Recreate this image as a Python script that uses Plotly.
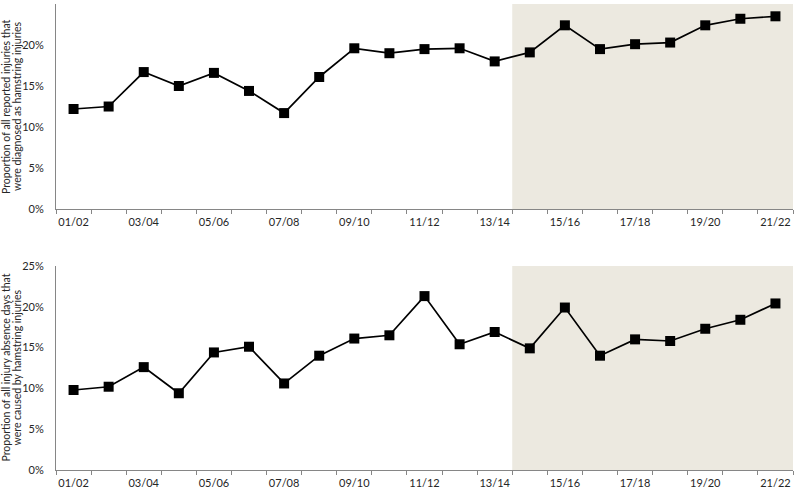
import plotly.graph_objects as go
from plotly.subplots import make_subplots

seasons = ["01/02", "02/03", "03/04", "04/05", "05/06", "06/07", "07/08", "08/09",
           "09/10", "10/11", "11/12", "12/13", "13/14", "14/15", "15/16", "16/17",
           "17/18", "18/19", "19/20", "20/21", "21/22"]

# % of all reported injuries diagnosed as hamstring injuries
injury_share = [12.2, 12.5, 16.7, 15.0, 16.6, 14.4, 11.7, 16.1, 19.6, 19.0, 19.5,
                19.6, 18.0, 19.1, 22.4, 19.5, 20.1, 20.3, 22.4, 23.2, 23.5]

# % of all injury absence days caused by hamstring injuries
absence_share = [9.8, 10.2, 12.6, 9.4, 14.4, 15.1, 10.6, 14.0, 16.1, 16.5, 21.3,
                 15.4, 16.9, 14.9, 19.9, 14.0, 16.0, 15.8, 17.3, 18.4, 20.4]

y_ticks = [0, 5, 10, 15, 20, 25]
shade_start = "14/15"

titles = [
    ["Proportion of all reported injuries that", "were diagnosed as hamstring injuries"],
    ["Proportion of all injury absence days that", "were caused by hamstring injuries"],
]

FONT = "Lato"
AXIS = "#868686"
SHADE = "#ECE9E0"
INK = "#262626"

domains = [[0.560, 1.0], [0.0, 0.438]]
PLOT_W = 737  # plot area width in px, used to place the rotated titles

fig = make_subplots(rows=2, cols=1, vertical_spacing=0.12)

for row, vals in enumerate([injury_share, absence_share], start=1):
    fig.add_trace(go.Scatter(
        x=seasons, y=vals, mode="lines+markers",
        line=dict(color="black", width=1.7),
        marker=dict(symbol="square", size=10, color="black"),
        showlegend=False,
    ), row=row, col=1)
    xref = "x" if row == 1 else "x2"
    yref = "y domain" if row == 1 else "y2 domain"
    fig.add_shape(
        type="rect", xref=xref, yref=yref,
        x0=seasons.index(shade_start) - 0.5, x1=len(seasons) - 0.5, y0=0, y1=1,
        fillcolor=SHADE, line_width=0, layer="below",
    )
    fig.update_xaxes(
        row=row, col=1, type="category",
        tickmode="array", tickvals=seasons,
        ticktext=[s if i % 2 == 0 else "" for i, s in enumerate(seasons)],
        tickson="boundaries", ticks="outside", ticklen=4, tickcolor=AXIS,
        tickangle=0, automargin=False, ticklabelstandoff=3,
        showline=True, linecolor=AXIS, linewidth=1, showgrid=False,
        range=[-0.5, len(seasons) - 0.5],
        tickfont=dict(family=FONT, size=11, color=INK),
    )
    # invisible ticks give the gap between labels and axis line
    fig.update_yaxes(
        row=row, col=1, range=[0, 25], tickmode="array", tickvals=y_ticks,
        ticktext=[f"{v}%" for v in y_ticks], automargin=False,
        showline=True, linecolor=AXIS, linewidth=1, showgrid=False,
        zeroline=False, ticks="outside", ticklen=9, tickcolor="rgba(0,0,0,0)",
        tickfont=dict(family=FONT, size=11, color=INK),
        domain=domains[row - 1],
    )
    # two-line rotated y title, one annotation per line for tight spacing
    for line, px in zip(titles[row - 1], [-50.5, -39.5]):
        fig.add_annotation(
            text=line, xref="paper", yref="paper",
            x=px / PLOT_W, y=sum(domains[row - 1]) / 2,
            xanchor="center", yanchor="middle",
            textangle=-90, showarrow=False,
            font=dict(family=FONT, size=10.5, color=INK),
        )

fig.update_layout(
    width=794, height=490,
    plot_bgcolor="white", paper_bgcolor="white",
    margin=dict(l=56, r=1, t=4, b=20),
    font=dict(family=FONT, size=11),
)

fig.write_html("out.html", config={"displayModeBar": False},
               post_script="document.body.style.margin='0';")
